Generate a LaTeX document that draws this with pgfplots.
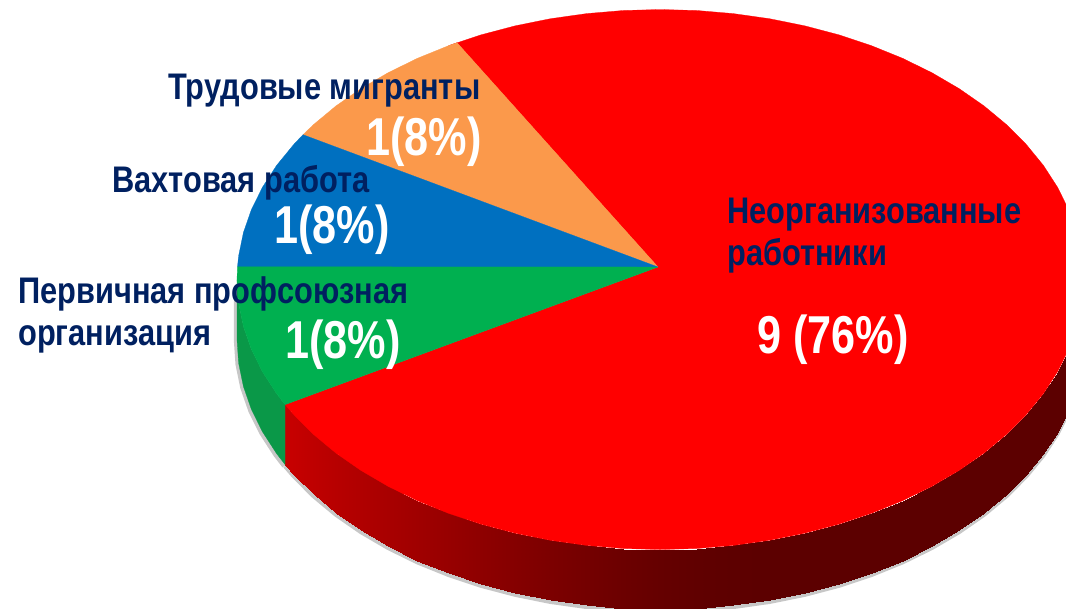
\documentclass[border=0pt]{standalone}
\usepackage{fontspec}
\setmainfont{Liberation Sans}
\usepackage{pgfplots}
\usepackage{pgfplotstable}
\pgfplotsset{compat=1.18}
\usepgfplotslibrary{patchplots}
\definecolor{navy}{HTML}{002060}
\definecolor{pred}{HTML}{FF0000}
\definecolor{porange}{HTML}{FB994B}
\definecolor{pblue}{HTML}{0070C0}
\definecolor{pgreen}{HTML}{00B050}
\definecolor{sgreen}{HTML}{0A9848}
\pgfplotstableread{
x y m
285.1 404.6 200
293.7 414.5 197
313.5 434.4 190
336.0 453.1 183
360.9 470.4 176
388.1 486.3 168
417.4 500.7 160
448.5 513.3 151
481.2 524.2 142
515.3 533.2 133
550.5 540.3 124
586.6 545.4 116
623.1 548.5 108
660.0 549.5 101
696.9 548.5 96
733.4 545.4 93
769.5 540.3 92
804.7 533.2 92
838.8 524.2 92
871.5 513.3 92
902.6 500.7 92
931.9 486.3 92
959.1 470.4 92
984.0 453.1 92
1006.5 434.4 92
1026.3 414.5 92
1043.4 393.6 92
1057.5 371.8 92
1068.6 349.4 92
1076.6 326.4 92
1081.4 303.0 92
1083.0 279.5 92
285.1 464.6 200
293.7 474.5 197
313.5 494.4 190
336.0 513.1 183
360.9 530.4 176
388.1 546.3 168
417.4 560.7 160
448.5 573.3 151
481.2 584.2 142
515.3 593.2 133
550.5 600.3 124
586.6 605.4 116
623.1 608.5 108
660.0 609.5 101
696.9 608.5 96
733.4 605.4 93
769.5 600.3 92
804.7 593.2 92
838.8 584.2 92
871.5 573.3 92
902.6 560.7 92
931.9 546.3 92
959.1 530.4 92
984.0 513.1 92
1006.5 494.4 92
1026.3 474.5 92
1043.4 453.6 92
1057.5 431.8 92
1068.6 409.4 92
1076.6 386.4 92
1081.4 363.0 92
1083.0 339.5 92
}\sideband
\pgfplotstableread{
x y
658 267
457.0 42.7
448.5 45.7
481.2 34.8
515.3 25.8
550.5 18.7
586.6 13.6
623.1 10.5
660.0 9.5
696.9 10.5
733.4 13.6
769.5 18.7
804.7 25.8
838.8 34.8
871.5 45.7
902.6 58.3
931.9 72.7
959.1 88.6
984.0 105.9
1006.5 124.6
1026.3 144.5
1043.4 165.4
1057.5 187.2
1068.6 209.6
1076.6 232.6
1081.4 256.0
1083.0 279.5
1081.4 303.0
1076.6 326.4
1068.6 349.4
1057.5 371.8
1043.4 393.6
1026.3 414.5
1006.5 434.4
984.0 453.1
959.1 470.4
931.9 486.3
902.6 500.7
871.5 513.3
838.8 524.2
804.7 533.2
769.5 540.3
733.4 545.4
696.9 548.5
660.0 549.5
623.1 548.5
586.6 545.4
550.5 540.3
515.3 533.2
481.2 524.2
448.5 513.3
417.4 500.7
388.1 486.3
360.9 470.4
336.0 453.1
313.5 434.4
293.7 414.5
285.1 404.6
658 267
}\redslice
\pgfplotstableread{
x y
658 267
303.0 134.7
313.5 124.6
336.0 105.9
360.9 88.6
388.1 72.7
417.4 58.3
448.5 45.7
457.0 42.7
658 267
}\orangeslice
\pgfplotstableread{
x y
658 267
237.5 266.8
238.6 256.0
243.4 232.6
251.4 209.6
262.5 187.2
276.6 165.4
293.7 144.5
303.0 134.7
658 267
}\blueslice
\pgfplotstableread{
x y
658 267
285.1 404.6
276.6 393.6
262.5 371.8
251.4 349.4
243.4 326.4
238.6 303.0
237.0 279.5
237.5 266.8
658 267
}\greenslice
\pgfplotstableread{
x y
237.0 279.5
238.6 303.0
243.4 326.4
251.4 349.4
262.5 371.8
276.6 393.6
285.1 404.6
285.1 464.6
276.6 453.6
262.5 431.8
251.4 409.4
243.4 386.4
238.6 363.0
237.0 339.5
237.0 279.5
}\greenside
\pgfplotstableread{
x y
237.0 290
237.0 339.5
238.6 363.0
243.4 386.4
251.4 409.4
262.5 431.8
276.6 453.6
285.1 464.6
}\greenedge
\newcommand{\lab}[3]{\node[anchor=base west,inner sep=0pt,text=navy] at (axis cs:#1,#2) {\scalebox{0.832}[1]{\fontsize{27.75}{30}\selectfont\bfseries #3}};}
\newcommand{\val}[3]{\node[anchor=base west,inner sep=0pt,text=white] at (axis cs:#1,#2) {\scalebox{0.81}[1]{\fontsize{40}{40}\selectfont\bfseries #3}};}
\begin{document}
\begin{tikzpicture}
\useasboundingbox (0,0) rectangle (799.5pt,456pt);
\begin{axis}[
  at={(0,0)},anchor=south west,
  scale only axis,width=799.5pt,height=456pt,
  xmin=0,xmax=1066,ymin=0,ymax=608,y dir=reverse,
  hide axis,clip=true,
  colormap={sidered}{rgb255=(92,0,0) rgb255=(200,0,0)},
  point meta min=92,point meta max=200,
]
% soft shadow
\addplot[draw=black!22,line width=3.5pt,no marks,yshift=-1pt,skip coords between index={0}{32}] table[x=x,y=y]{\sideband};
\addplot[draw=black!22,line width=3.5pt,no marks,yshift=-1pt,xshift=-.6pt] table[x=x,y=y]{\greenedge};
% sides
\addplot[surf,shader=interp,mesh/rows=2,mesh/ordering=x varies,point meta=\thisrow{m}] table[x=x,y=y]{\sideband};
\addplot[fill=sgreen,draw=sgreen,line width=.2pt] table[x=x,y=y]{\greenside};
% top face
\addplot[fill=pred,draw=pred,line width=.2pt] table[x=x,y=y]{\redslice};
\addplot[fill=porange,draw=porange,line width=.2pt] table[x=x,y=y]{\orangeslice};
\addplot[fill=pblue,draw=pblue,line width=.2pt] table[x=x,y=y]{\blueslice};
\addplot[fill=pgreen,draw=pgreen,line width=.2pt] table[x=x,y=y]{\greenslice};
\lab{168}{99}{Трудовые мигранты}
\lab{112}{192}{Вахтовая работа}
\lab{18}{303}{Первичная профсоюзная}
\lab{18}{345}{организация}
\lab{727}{223}{Неорганизованные}
\lab{727}{265}{работники}
\val{366}{155}{1(8\%)}
\val{274}{243}{1(8\%)}
\val{285}{358}{1(8\%)}
\val{757}{353}{9 (76\%)}
\end{axis}
\end{tikzpicture}
\end{document}
